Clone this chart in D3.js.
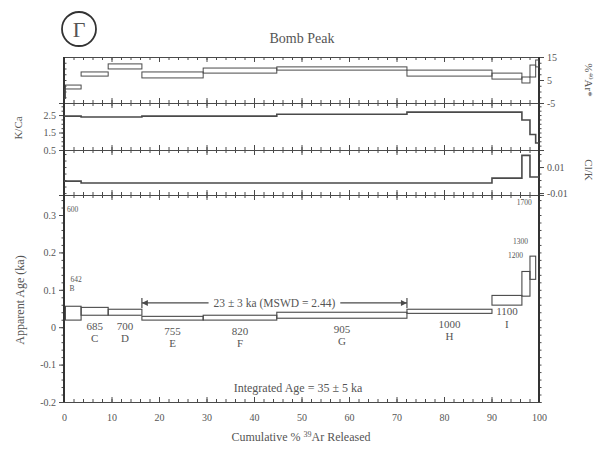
<!DOCTYPE html>
<html>
<head>
<meta charset="utf-8">
<script src="https://cdn.jsdelivr.net/npm/d3@7"></script>
<style>
  body { margin: 0; background: #fff; }
  text { font-family: "Liberation Serif", "DejaVu Serif", serif; fill: #555; }
</style>
</head>
<body>
<svg id="chart" width="602" height="451"></svg>
<script>
// step heating data
const temps = ['600', '642', '685', '700', '755', '820', '905', '1000', '1100', '1200', '1300', '1700']
const letters = ['A', 'B', 'C', 'D', 'E', 'F', 'G', 'H', 'I', 'J', 'K', 'L']
const cumEnd = [0.3, 3.6, 9.3, 16.4, 29.3, 44.8, 72.2, 90.1, 96.4, 98.1, 99.3, 100]
const ageHi = [0.6, 0.056, 0.053, 0.048, 0.029, 0.032, 0.040, 0.048, 0.085, 0.149, 0.190, 0.6]
const ageLo = [0.36, 0.019, 0.032, 0.032, 0.019, 0.019, 0.024, 0.037, 0.059, 0.083, 0.128, 0.36]
const arHi = [1.0, 2.8, 8.5, 12.0, 8.5, 10.2, 10.7, 9.3, 8.0, 6.3, 11.5, 13.7]
const arLo = [-3.0, 1.1, 6.7, 9.8, 5.9, 8.0, 9.3, 6.7, 5.4, 3.7, 6.3, 10.7]
const kca = [2.44, 2.44, 2.39, 2.39, 2.44, 2.44, 2.55, 2.67, 2.67, 2.22, 1.39, 0.9]
const clk = [-0.0008, -0.0008, -0.0023, -0.0023, -0.0023, -0.0023, -0.0023, -0.0023, 0.0015, 0.019, 0.0023, 0.0023]

const plateau = { from: 16.4, to: 72.2, level: 0.065, label: '23 ± 3 ka (MSWD = 2.44)' }
const integrated = 'Integrated Age = 35 ± 5 ka'
const xTickVals = [0, 10, 20, 30, 40, 50, 60, 70, 80, 90, 100]
const ageTickVals = [-0.2, -0.1, 0, 0.1, 0.2, 0.3]
const arTickVals = [-5, 5, 15]
const kcaTickVals = [0.5, 1.5, 2.5]
const clkTickVals = [-0.01, 0.01]

const steps = temps.map((t, i) => ({
    temp: t,
    letter: letters[i],
    start: i === 0 ? 0 : cumEnd[i - 1],
    end: cumEnd[i],
    ageHi: ageHi[i], ageLo: ageLo[i],
    arHi: arHi[i], arLo: arLo[i],
    kca: kca[i], clk: clk[i]
}))

const svg = d3.select('#chart')
const ink = '#4a4a4a'

const x = d3.scaleLinear().domain([0, 100]).range([64, 539])

const panels = [
    { key: 'ar', y: d3.scaleLinear().domain([-5, 15]).range([103, 57]),
      side: 'right', major: arTickVals, minor: d3.range(-5, 15.01, 2.5), fmt: d => String(d) },
    { key: 'kca', y: d3.scaleLinear().domain([0.5, 3.19]).range([150, 103]),
      side: 'left', major: kcaTickVals, minor: d3.range(0.5, 3.1, 0.25), fmt: d => d.toFixed(1) },
    { key: 'clk', y: d3.scaleLinear().domain([-0.0115, 0.0231]).range([195, 150]),
      side: 'right', major: clkTickVals, minor: d3.range(-0.01, 0.0231, 0.005), fmt: d => d.toFixed(2) },
    { key: 'age', y: d3.scaleLinear().domain([-0.2, 0.3535]).range([402, 195]),
      side: 'left', major: ageTickVals, minor: d3.range(-0.2, 0.35, 0.02), fmt: d => d === 0 ? '0' : d.toFixed(1) }
]
const P = {}
panels.forEach(p => P[p.key] = p)

function styleAxis(g) {
    g.select('.domain').attr('stroke', ink)
    g.selectAll('.tick line').attr('stroke', ink)
    g.selectAll('.tick text').attr('fill', '#555').style('font-family', '"Liberation Serif", serif').attr('font-size', 10)
}

// clip for each panel
panels.forEach(p => {
    const [b, t] = p.y.range()
    svg.append('clipPath').attr('id', 'clip-' + p.key)
        .append('rect').attr('x', x(0)).attr('y', t).attr('width', x(100) - x(0)).attr('height', b - t)
})

// horizontal axes on top and bottom of every panel, ticks pointing inward
panels.forEach((p, i) => {
    const [b, t] = p.y.range()
    svg.append('g').attr('transform', `translate(0,${t})`)
        .call(d3.axisTop(x).tickValues(d3.range(0, 101, 2)).tickSize(-3).tickFormat(''))
        .call(styleAxis)
    svg.append('g').attr('transform', `translate(0,${t})`)
        .call(d3.axisTop(x).tickValues(xTickVals).tickSize(-5).tickFormat(''))
        .call(styleAxis)
    const last = i === panels.length - 1
    svg.append('g').attr('transform', `translate(0,${b})`)
        .call(d3.axisBottom(x).tickValues(d3.range(0, 101, 2)).tickSize(-3).tickFormat(''))
        .call(styleAxis)
    svg.append('g').attr('transform', `translate(0,${b})`)
        .call(d3.axisBottom(x).tickValues(xTickVals).tickSize(-5).tickPadding(12)
            .tickFormat(last ? d3.format('d') : ''))
        .call(styleAxis)
})

// vertical axes
panels.forEach(p => {
    const labelled = p.side === 'left' ? d3.axisLeft : d3.axisRight
    const other = p.side === 'left' ? d3.axisRight : d3.axisLeft
    const xl = p.side === 'left' ? x(0) : x(100)
    const xo = p.side === 'left' ? x(100) : x(0)
    svg.append('g').attr('transform', `translate(${xl},0)`)
        .call(labelled(p.y).tickValues(p.minor).tickSize(2.5).tickFormat(''))
        .call(styleAxis)
    svg.append('g').attr('transform', `translate(${xl},0)`)
        .call(labelled(p.y).tickValues(p.major).tickSize(5).tickPadding(3).tickFormat(p.fmt))
        .call(styleAxis)
    svg.append('g').attr('transform', `translate(${xo},0)`)
        .call(other(p.y).tickValues(p.minor).tickSize(p.side === 'left' ? 2.5 : -2.5).tickFormat(''))
        .call(styleAxis)
})

// heavy frame lines left and right
;[x(0), x(100)].forEach(xx => {
    svg.append('line').attr('x1', xx).attr('x2', xx).attr('y1', 57).attr('y2', 402)
        .attr('stroke', '#333').attr('stroke-width', 2)
})

// %40Ar* boxes
svg.append('g').attr('clip-path', 'url(#clip-ar)')
    .selectAll('rect').data(steps).join('rect')
    .attr('x', d => x(d.start))
    .attr('width', d => x(d.end) - x(d.start))
    .attr('y', d => P.ar.y(d.arHi))
    .attr('height', d => P.ar.y(d.arLo) - P.ar.y(d.arHi))
    .attr('fill', 'none').attr('stroke', ink).attr('stroke-width', 1)

// K/Ca and Cl/K stair lines
function stairs(key, acc) {
    const pts = steps.map(d => [d.start, acc(d)])
    pts.push([100, acc(steps[steps.length - 1])])
    const line = d3.line().x(d => x(d[0])).y(d => P[key].y(d[1])).curve(d3.curveStepAfter)
    svg.append('path').attr('clip-path', `url(#clip-${key})`)
        .attr('d', line(pts)).attr('fill', 'none').attr('stroke', ink).attr('stroke-width', 1.6)
}
stairs('kca', d => d.kca)
stairs('clk', d => d.clk)

// apparent age boxes
svg.append('g').attr('clip-path', 'url(#clip-age)')
    .selectAll('rect').data(steps).join('rect')
    .attr('x', d => x(d.start))
    .attr('width', d => x(d.end) - x(d.start))
    .attr('y', d => P.age.y(d.ageHi))
    .attr('height', d => P.age.y(d.ageLo) - P.age.y(d.ageHi))
    .attr('fill', 'none').attr('stroke', ink).attr('stroke-width', 1.1)

// step labels C..I below boxes
const mid = steps.filter(d => 'CDEFGHI'.includes(d.letter))
svg.append('g').selectAll('text.temp').data(mid).join('text')
    .attr('x', d => x((d.start + d.end) / 2))
    .attr('y', d => P.age.y(d.ageLo) + (d.letter === 'I' ? 10 : 15))
    .attr('text-anchor', 'middle').attr('font-size', 11)
    .text(d => d.temp)
svg.append('g').selectAll('text.let').data(mid).join('text')
    .attr('x', d => x((d.start + d.end) / 2))
    .attr('y', d => P.age.y(d.ageLo) + (d.letter === 'I' ? 23 : 27))
    .attr('text-anchor', 'middle').attr('font-size', 11)
    .text(d => d.letter)

// small labels at the ends of the spectrum
const small = (t, xx, yy) => svg.append('text').attr('x', xx).attr('y', yy)
    .attr('font-size', 7.5).attr('fill', '#777').text(t)
small(steps[0].temp, x(0) + 3, P.age.y(0.3535) + 17)
small(steps[1].temp, x(steps[1].start) + 5, P.age.y(steps[1].ageHi) - 24)
small(steps[1].letter, x(steps[1].start) + 4, P.age.y(steps[1].ageHi) - 15)
small(steps[9].temp, x(steps[9].start) - 14, P.age.y(steps[9].ageHi) - 13)
small(steps[10].temp, x(steps[10].start) - 17, P.age.y(steps[10].ageHi) - 12)
small(steps[11].temp, x(steps[11].start) - 19, P.age.y(0.3535) + 10)

// plateau marker
const py = P.age.y(plateau.level)
const pl = svg.append('text').attr('x', x((plateau.from + plateau.to) / 2)).attr('y', py + 4)
    .attr('text-anchor', 'middle').attr('font-size', 11.5).text(plateau.label)
const half = pl.node().getComputedTextLength() / 2 + 5
const pc = x((plateau.from + plateau.to) / 2)
svg.append('line').attr('x1', x(plateau.from)).attr('x2', pc - half).attr('y1', py).attr('y2', py)
    .attr('stroke', ink).attr('stroke-width', 1.1)
svg.append('line').attr('x1', pc + half).attr('x2', x(plateau.to)).attr('y1', py).attr('y2', py)
    .attr('stroke', ink).attr('stroke-width', 1.1)
;[[x(plateau.from), 1], [x(plateau.to), -1]].forEach(([xx, dir]) => {
    svg.append('line').attr('x1', xx).attr('x2', xx).attr('y1', py - 5).attr('y2', py + 5)
        .attr('stroke', ink).attr('stroke-width', 1.2)
    svg.append('path').attr('d', `M${xx},${py}l${6 * dir},-3l0,6z`).attr('fill', ink)
})

svg.append('text').attr('x', 298).attr('y', 392).attr('text-anchor', 'middle')
    .attr('font-size', 12).text(integrated)

// titles
svg.append('text').attr('x', 302).attr('y', 43).attr('text-anchor', 'middle')
    .attr('font-size', 14).text('Bomb Peak')
svg.append('circle').attr('cx', 79).attr('cy', 29).attr('r', 17)
    .attr('fill', 'none').attr('stroke', '#333').attr('stroke-width', 1.8)
svg.append('text').attr('x', 79).attr('y', 37).attr('text-anchor', 'middle')
    .attr('font-size', 22).attr('fill', '#333').text('Γ')

const xt = svg.append('text').attr('x', 301).attr('y', 441).attr('text-anchor', 'middle').attr('font-size', 12)
xt.append('tspan').text('Cumulative % ')
xt.append('tspan').attr('font-size', 8).attr('dy', -4).text('39')
xt.append('tspan').attr('dy', 4).text('Ar Released')

svg.append('text').attr('transform', 'translate(24,300) rotate(-90)')
    .attr('text-anchor', 'middle').attr('font-size', 12).text('Apparent Age (ka)')
svg.append('text').attr('transform', 'translate(22,128) rotate(-90)')
    .attr('text-anchor', 'middle').attr('font-size', 11).text('K/Ca')
const ar = svg.append('text').attr('transform', 'translate(585,80) rotate(90)')
    .attr('text-anchor', 'middle').attr('font-size', 11)
ar.append('tspan').text('%')
ar.append('tspan').attr('font-size', 7).attr('dy', -4).text('40')
ar.append('tspan').attr('dy', 4).text('Ar*')
svg.append('text').attr('transform', 'translate(585,170) rotate(90)')
    .attr('text-anchor', 'middle').attr('font-size', 11).text('Cl/K')
</script>
</body>
</html>
